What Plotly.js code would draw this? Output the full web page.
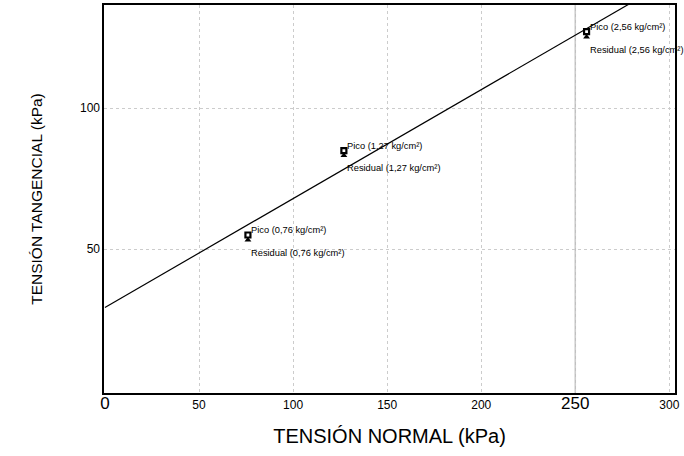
<!DOCTYPE html>
<html><head><meta charset="utf-8">
<script src="https://cdn.plot.ly/plotly-3.0.1.min.js"></script>
<style>html,body{margin:0;padding:0;background:#fff;}#chart{width:684px;height:456px;}</style>
</head><body><div id="chart"></div>
<script>
// Data
const normalStress = [76, 127, 256];            // kPa
const picoShear = [55.0, 84.9, 127.1];          // kPa
const residualShear = [53.2, 83.2, 125.2];      // kPa
const loadLabels = ["0,76", "1,27", "2,56"];     // kg/cm²
const cohesion = 29.3;                           // kPa (line intercept)
const frictionSlope = 0.386;                     // tan(phi)
const lineX = [0, 303];
const xTickVals = [0, 50, 100, 150, 200, 250, 300];
const xTickText = ['<span style="font-size:17px">0</span>', '50', '100', '150', '200', '<span style="font-size:17px">250</span>', '300'];
const yTickVals = [50, 100];

const lineY = lineX.map(x => cohesion + frictionSlope * x);

const traces = [
  {x: lineX, y: lineY, mode: 'lines', line: {color: '#000', width: 1.2}, hoverinfo: 'skip'},
  {x: normalStress, y: picoShear, mode: 'markers', marker: {symbol: 'square-open', size: 5, color: '#000', line: {width: 2.2, color: '#000'}}},
  {x: normalStress, y: residualShear, mode: 'markers', marker: {symbol: 'triangle-up', size: 6, color: '#000'}}
];

const annotations = [];
normalStress.forEach((x, i) => {
  annotations.push({x: x, y: picoShear[i], xref: 'x', yref: 'y', text: 'Pico (' + loadLabels[i] + ' kg/cm²)',
    showarrow: false, xanchor: 'left', yanchor: 'middle', xshift: 1, yshift: 5,
    font: {family: 'Liberation Sans, Arial', size: 9.3, color: '#000'}});
  annotations.push({x: x, y: residualShear[i], xref: 'x', yref: 'y', text: 'Residual (' + loadLabels[i] + ' kg/cm²)',
    showarrow: false, xanchor: 'left', yanchor: 'middle', xshift: 1, yshift: -13,
    font: {family: 'Liberation Sans, Arial', size: 9.3, color: '#000'}});
});

const layout = {
  width: 684, height: 456,
  margin: {l: 104, r: 9, t: 5, b: 63},
  paper_bgcolor: '#fff', plot_bgcolor: '#fff',
  showlegend: false,
  font: {family: 'Liberation Sans, Arial', color: '#000'},
  xaxis: {
    range: [-0.5, 303], tickvals: xTickVals, ticktext: xTickText,
    showgrid: true, gridcolor: '#cccccc', griddash: '3px,3px', gridwidth: 1,
    zeroline: false, showline: true, linecolor: '#000', linewidth: 1.6, mirror: true,
    ticks: '', tickfont: {size: 12},
    title: {text: 'TENSIÓN NORMAL (kPa)', font: {size: 20}, standoff: 17}
  },
  yaxis: {
    range: [-1, 136.5], tickvals: yTickVals,
    showgrid: true, gridcolor: '#cccccc', griddash: '3px,3px', gridwidth: 1,
    zeroline: false, showline: true, linecolor: '#000', linewidth: 1.6, mirror: true,
    ticks: '', tickfont: {size: 12},
    title: {text: 'TENSIÓN TANGENCIAL (kPa)', font: {size: 15.5}, standoff: 33}
  },
  shapes: [{type: 'line', xref: 'x', yref: 'paper', x0: 250, x1: 250, y0: 0, y1: 1,
    line: {color: '#c0c0c0', width: 1.5}, layer: 'below'}],
  annotations: annotations
};

Plotly.newPlot('chart', traces, layout, {displayModeBar: false, staticPlot: true});
</script>
</body></html>
